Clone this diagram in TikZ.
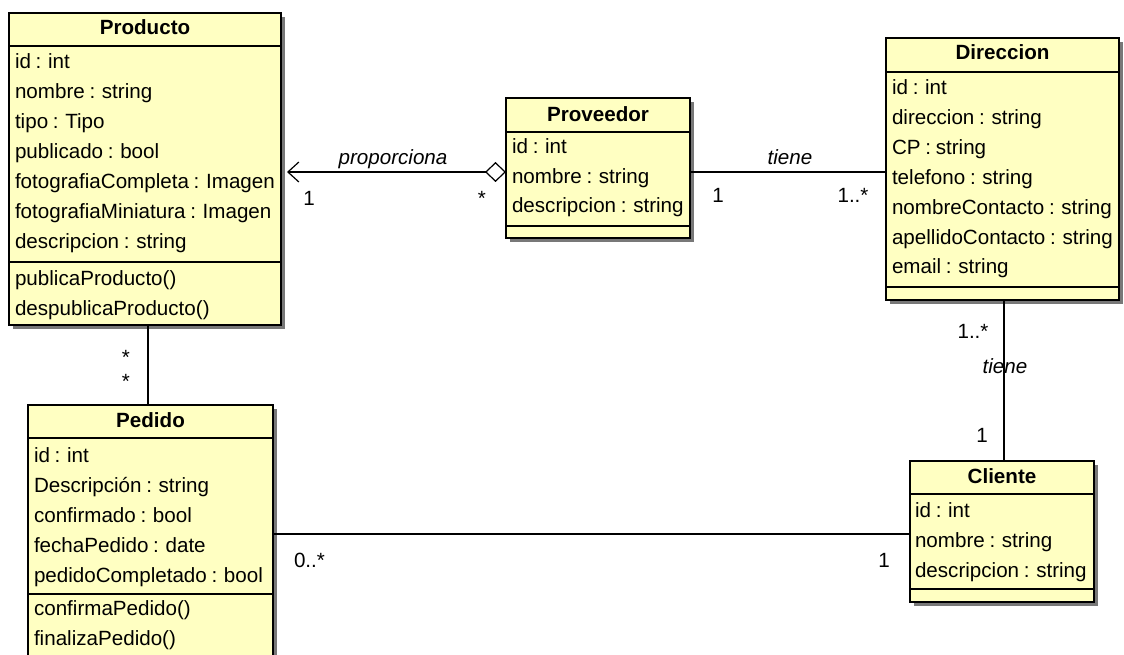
\documentclass[tikz,border=0pt]{standalone}
\usepackage{fontspec}
\setmainfont{Liberation Sans}
\usetikzlibrary{arrows.meta,shadows,calc}

\definecolor{classfill}{RGB}{255,255,194}
\definecolor{shadowgray}{RGB}{120,120,120}

% text font: slightly tighter word spacing than the default
\newcommand{\umlfont}{\fontsize{20.6pt}{24pt}\selectfont\spaceskip=0.23em\relax}

\tikzset{
  txt/.style={font=\umlfont, inner sep=0pt, outer sep=0pt},
  row/.style={txt, anchor=base west},
  title/.style={txt, anchor=base, font=\umlfont\bfseries},
  role/.style={txt, anchor=base, font=\umlfont\itshape},
  mult/.style={txt, anchor=base},
  classbox/.style={draw=black, line width=1.2pt, fill=classfill, inner sep=0pt, outer sep=0pt,
    anchor=north west,
    drop shadow={shadow xshift=4pt, shadow yshift=-4pt, fill=shadowgray, opacity=1}},
  sep/.style={draw=black, line width=1.2pt},
  assoc/.style={draw=black, line width=1.2pt}
}

\begin{document}
\begin{tikzpicture}[x=1pt, y=-1pt]
\useasboundingbox (0,0) rectangle (1124,655);
\clip (0,0) rectangle (1124,655);

% ---------- class boxes ----------
\node[classbox, minimum width=272pt, minimum height=312pt] (producto)  at (9,13)   {};
\node[classbox, minimum width=184pt, minimum height=140pt] (proveedor) at (506,98) {};
\node[classbox, minimum width=233pt, minimum height=262pt] (direccion) at (886,38) {};
\node[classbox, minimum width=184pt, minimum height=141pt] (cliente)   at (910,461) {};
\node[classbox, minimum width=245pt, minimum height=275pt] (pedido)    at (28,405) {};

% compartment separators
\foreach \c/\a/\b in {producto/33/249, proveedor/34/128, direccion/34/249, cliente/33/128, pedido/33/189}{
  \draw[sep] ([yshift=-\a pt]\c.north west) -- ([yshift=-\a pt]\c.north east);
  \draw[sep] ([yshift=-\b pt]\c.north west) -- ([yshift=-\b pt]\c.north east);
}

% ---------- Producto ----------
\node[title] (producto-t) at (145,35) {Producto};
\foreach \t [count=\i] in {id : int, nombre : string, tipo : Tipo, publicado : bool,
    fotografiaCompleta : Imagen, fotografiaMiniatura : Imagen, descripcion : string}
  \node[row] (producto-a\i) at (15,{69+29.9*(\i-1)}) {\t};
\node[row] (producto-m1) at (15,285) {publicaProducto()};
\node[row] (producto-m2) at (15,315) {despublicaProducto()};

% ---------- Proveedor ----------
\node[title] (proveedor-t) at (598,122) {Proveedor};
\foreach \t [count=\i] in {id : int, nombre : string, descripcion : string}
  \node[row] (proveedor-a\i) at (512,{154+29.5*(\i-1)}) {\t};

% ---------- Direccion ----------
\node[title] (direccion-t) at (1002.5,60) {Direccion};
\foreach \t [count=\i] in {id : int, direccion : string, CP : string, telefono : string,
    nombreContacto : string, apellidoContacto : string, email : string}
  \node[row] (direccion-a\i) at (892,{95+29.8*(\i-1)}) {\t};

% ---------- Cliente ----------
\node[title] (cliente-t) at (1002,483) {Cliente};
\foreach \t [count=\i] in {id : int, nombre : string, descripcion : string}
  \node[row] (cliente-a\i) at (915,{517+30*(\i-1)}) {\t};

% ---------- Pedido ----------
\node[title] (pedido-t) at (150.5,427) {Pedido};
\foreach \t [count=\i] in {id : int, Descripción : string, confirmado : bool,
    fechaPedido : date, pedidoCompletado : bool}
  \node[row] (pedido-a\i) at (34,{462+30*(\i-1)}) {\t};
\node[row] (pedido-m1) at (34,615) {confirmaPedido()};
\node[row] (pedido-m2) at (34,645) {finalizaPedido()};

% ---------- associations ----------
% Proveedor (aggregate) -> Producto
\coordinate (pv-w) at ([yshift=-4pt]proveedor.west);
\coordinate (pr-e) at ($(producto.east |- pv-w)+(6,0)$);
\draw[assoc, {Diamond[open, length=21pt, width=20pt, line width=1.2pt]}-{Straight Barb[length=11pt, width=20pt, line width=1.2pt]}]
  (pv-w) -- (pr-e);
\node[role] (lbl-proporciona) at (393,165) {proporciona};
\node[mult] (m-pr-1) at (309,205) {1};
\node[mult] (m-pv-star) at (482,205) {*};

% Proveedor -- Direccion
\coordinate (pv-e) at ([yshift=-4pt]proveedor.east);
\draw[assoc] (pv-e) -- (direccion.west |- pv-e);
\node[role] (lbl-tiene-1) at (790,165) {tiene};
\node[mult] (m-pv-1) at (718,203) {1};
\node[mult] (m-di-n) at (853,203) {1..*};

% Direccion -- Cliente
\coordinate (di-s) at ($(direccion.south)+(1.5,0)$);
\draw[assoc] (di-s) -- (di-s |- cliente.north);
\node[mult] (m-di-n2) at (973,338) {1..*};
\node[role] (lbl-tiene-2) at (1005,373) {tiene};
\node[mult] (m-cl-1) at (982,442) {1};

% Producto -- Pedido
\coordinate (pr-s) at ($(producto.south)+(3,0)$);
\draw[assoc] (pr-s) -- (pr-s |- pedido.north);
\node[mult] (m-pr-star) at (126,364) {*};
\node[mult] (m-pe-star) at (126,388) {*};

% Pedido -- Cliente
\coordinate (cl-w) at ([yshift=-2.5pt]cliente.west);
\draw[assoc] (pedido.east |- cl-w) -- (cl-w);
\node[mult] (m-pe-n) at (309.5,567) {0..*};
\node[mult] (m-cl-2) at (884,567) {1};

\end{tikzpicture}
\end{document}
